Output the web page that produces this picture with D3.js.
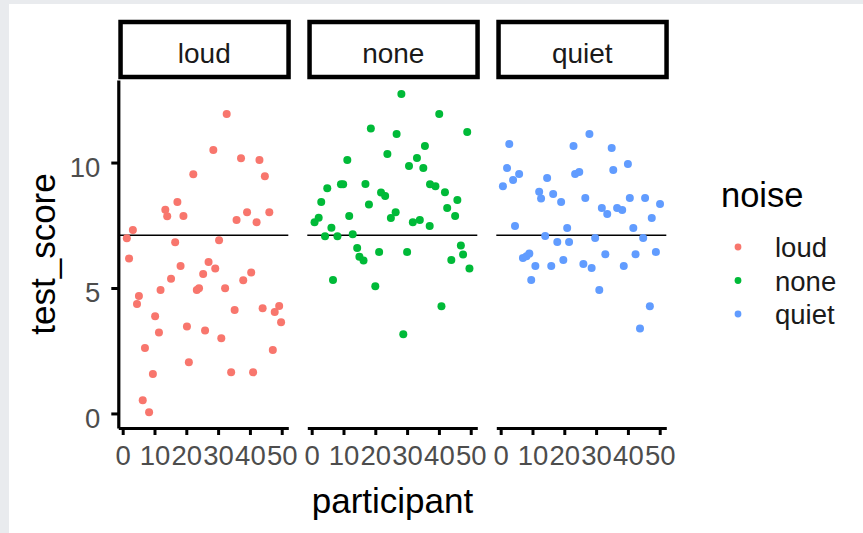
<!DOCTYPE html>
<html>
<head>
<meta charset="utf-8">
<script src="https://cdn.jsdelivr.net/npm/d3@7"></script>
<style>
  html, body { margin: 0; padding: 0; background: #e9ebee; }
  svg { display: block; }
  text { font-family: Arial, "Liberation Sans", sans-serif; }
</style>
</head>
<body>
<svg width="863" height="533"></svg>
<script>
// facet levels and colours
const noiseLevels = ["loud", "none", "quiet"];
const noiseColors = ["#F8766D", "#00BA38", "#619CFF"];

// jittered participant / test_score
const loudX = [32.7, 28.5, 37.2, 43.0, 44.7, 22.2, 17.2, 13.4, 14.0, 19.1, 35.8, 39.1, 42.1, 46.1, 3.2, 1.3, 2.0, 16.5, 30.3, 18.2,
  27.0, 29.1, 25.3, 15.2, 40.4, 37.9, 11.9, 23.3, 24.0, 32.2, 5.1, 4.5, 35.2, 44.0, 47.8, 49.2, 49.8, 10.2, 11.4, 20.2,
  25.9, 31.0, 7.0, 47.2, 20.8, 9.5, 34.1, 41.0, 6.3, 8.3];
const loudY = [11.93, 10.5, 10.17, 10.1, 9.45, 9.53, 8.43, 8.12, 7.86, 7.87, 7.71, 8.02, 7.62, 8.02, 7.31, 6.98, 6.18, 6.82, 6.9, 5.88,
  6.04, 5.78, 5.56, 5.37, 5.62, 5.31, 4.92, 4.92, 4.99, 4.99, 4.68, 4.36, 4.12, 4.19, 4.04, 4.28, 3.63, 3.87, 3.23, 3.47,
  3.31, 3.0, 2.61, 2.53, 2.04, 1.57, 1.64, 1.64, 0.53, 0.05];

const noneX = [28.2, 40.1, 18.6, 26.7, 48.9, 35.6, 23.8, 11.2, 33.1, 30.6, 35.1, 4.9, 9.2, 9.9, 16.9, 21.8, 23.1, 37.2, 38.9, 41.9,
  3.0, 18.0, 45.8, 42.6, 11.8, 26.4, 24.9, 45.1, 2.2, 0.9, 31.8, 34.0, 37.1, 6.2, 4.2, 8.1, 12.9, 14.3, 15.0, 16.3,
  21.2, 30.0, 46.9, 47.6, 43.9, 49.6, 6.7, 20.0, 40.8, 28.8];
const noneY = [12.73, 11.93, 11.36, 11.14, 11.22, 10.66, 10.34, 10.1, 10.18, 9.86, 9.78, 8.98, 9.13, 9.13, 9.14, 8.81, 8.67, 9.13, 9.06, 8.82,
  8.43, 8.33, 8.51, 8.19, 7.87, 8.02, 7.79, 7.87, 7.8, 7.62, 7.62, 7.71, 7.47, 7.4, 7.06, 7.06, 7.14, 6.59, 6.25, 6.1,
  6.43, 6.43, 6.69, 6.34, 6.12, 5.78, 5.32, 5.07, 4.27, 3.16];

const quietX = [27.9, 2.7, 22.9, 34.9, 40.0, 2.0, 35.4, 23.4, 24.7, 5.8, 3.9, 0.7, 14.6, 12.1, 12.7, 16.5, 19.0, 26.6, 40.6, 45.4,
  50.1, 31.8, 33.5, 36.6, 38.2, 47.5, 4.5, 20.9, 41.7, 14.0, 29.7, 44.8, 17.8, 21.5, 7.0, 8.1, 9.0, 32.9, 42.4, 48.8,
  19.7, 10.9, 15.9, 26.0, 28.6, 38.7, 9.6, 31.0, 46.9, 43.8];
const quietY = [11.14, 10.74, 10.66, 10.58, 9.94, 9.78, 9.7, 9.54, 9.62, 9.54, 9.3, 9.06, 9.38, 8.84, 8.57, 8.75, 8.43, 8.59, 8.59, 8.59,
  8.35, 8.19, 7.95, 8.19, 8.11, 7.79, 7.47, 7.39, 7.39, 7.07, 6.99, 6.99, 6.83, 6.83, 6.2, 6.27, 6.37, 6.35, 6.35, 6.43,
  6.12, 5.88, 5.88, 5.96, 5.8, 5.88, 5.32, 4.92, 4.27, 3.39];

const meanScore = 7.1;
const xTicks = [0, 10, 20, 30, 40, 50];
const yTicks = [0, 5, 10];

const panelData = [
  { noise: "loud", xs: loudX, ys: loudY },
  { noise: "none", xs: noneX, ys: noneY },
  { noise: "quiet", xs: quietX, ys: quietY }
];

const svg = d3.select("svg");

// white plot canvas on the grey viewer background
svg.append("rect").attr("x", 9).attr("y", 4).attr("width", 854).attr("height", 529).attr("fill", "#fff");

const color = d3.scaleOrdinal().domain(noiseLevels).range(noiseColors);
const facet = d3.scaleBand().domain(noiseLevels).range([118.3, 666.3]).paddingInner(0.1005);
const x = d3.scaleLinear().domain([-1.38, 52.07]).range([0, facet.bandwidth()]);
const y = d3.scaleLinear().domain([-0.58, 13.29]).range([428, 80]);

panelData.forEach(function(p, i) {
  const g = svg.append("g").attr("transform", `translate(${facet(p.noise)},0)`);

  // strip
  g.append("rect")
    .attr("x", 2.25).attr("y", 22)
    .attr("width", facet.bandwidth() - 2).attr("height", 55)
    .attr("fill", "#fff").attr("stroke", "#000").attr("stroke-width", 4.5);
  g.append("text")
    .attr("x", facet.bandwidth() / 2 + 1).attr("y", 62.5)
    .attr("text-anchor", "middle").attr("font-size", "28px").attr("fill", "#1a1a1a")
    .text(p.noise);

  // mean line
  g.append("line")
    .attr("x1", 0).attr("x2", facet.bandwidth())
    .attr("y1", y(meanScore)).attr("y2", y(meanScore))
    .attr("stroke", "#000").attr("stroke-width", 1.6);

  // points
  g.append("g")
    .selectAll("circle")
    .data(p.xs.map((d, j) => [d, p.ys[j]]))
    .join("circle")
    .attr("cx", d => x(d[0]))
    .attr("cy", d => y(d[1]))
    .attr("r", 4)
    .attr("fill", color(p.noise));

  // x axis
  const xa = g.append("g").attr("transform", "translate(0,428)")
    .call(d3.axisBottom(x).tickValues(xTicks).tickSize(7).tickPadding(10).tickSizeOuter(0));
  xa.select(".domain").attr("stroke", "#000").attr("stroke-width", 3.2);
  xa.selectAll(".tick line").attr("stroke", "#000").attr("stroke-width", 3);
  xa.selectAll(".tick text")
    .attr("font-size", "27.5px").attr("fill", "#4d4d4d")
    .attr("font-family", "Arial, 'Liberation Sans', sans-serif");

  if (i === 0) {
    const ya = g.append("g")
      .call(d3.axisLeft(y).tickValues(yTicks).tickSize(7).tickPadding(11).tickSizeOuter(0));
    ya.select(".domain").attr("stroke", "#000").attr("stroke-width", 3.2);
    ya.selectAll(".tick line").attr("stroke", "#000").attr("stroke-width", 3);
    ya.selectAll(".tick text")
      .attr("font-size", "27.5px").attr("fill", "#4d4d4d").attr("dy", "0.5em")
      .attr("font-family", "Arial, 'Liberation Sans', sans-serif");
  }
});

// axis titles
svg.append("text")
  .attr("x", 392.5).attr("y", 512.5)
  .attr("text-anchor", "middle").attr("font-size", "35px")
  .text("participant");
svg.append("text")
  .attr("transform", "translate(55,254) rotate(-90)")
  .attr("text-anchor", "middle").attr("font-size", "35px")
  .text("test_score");

// legend
const legend = svg.append("g");
legend.append("text")
  .attr("x", 721).attr("y", 206.5)
  .attr("font-size", "34.5px")
  .text("noise");
const legendY = d3.scalePoint().domain(noiseLevels).range([247, 314]);
noiseLevels.forEach(function(n) {
  legend.append("circle")
    .attr("cx", 738).attr("cy", legendY(n)).attr("r", 3.4)
    .attr("fill", color(n));
  legend.append("text")
    .attr("x", 775).attr("y", legendY(n) + 10)
    .attr("font-size", "27.5px").attr("fill", "#1a1a1a")
    .text(n);
});
</script>
</body>
</html>
